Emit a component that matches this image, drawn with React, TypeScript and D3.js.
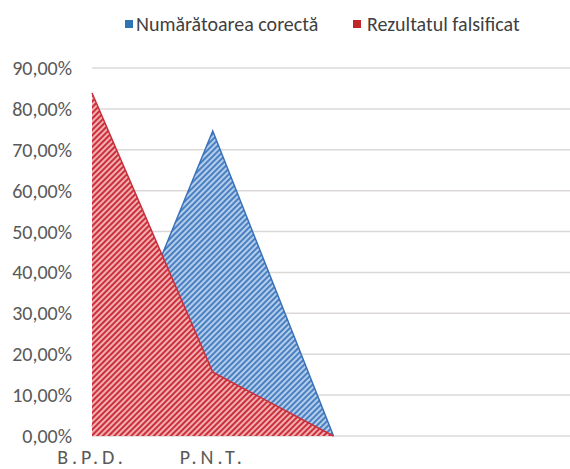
import React from 'react';
import * as d3 from 'd3';

// categories on the x axis (the last ones have no label)
const categories = ['B.P.D.', 'P.N.T.', '', ' '];
const seriesNames = ['Numărătoarea corectă', 'Rezultatul falsificat'];
const correctValues = [2.4, 74.6, 0];
const falsifiedValues = [83.9, 15.6, 0];
const yTicks = [0, 10, 20, 30, 40, 50, 60, 70, 80, 90];

const width = 570;
const height = 469;
const font = 'Carlito, "Open Sans", sans-serif';

const App = () => {
  const x = d3.scaleLinear().domain([0, categories.length]).range([92, 575]);
  const y = d3.scaleLinear().domain([0, 90]).range([436, 68]);

  const area = d3
    .area<number>()
    .x((d, i) => x(i))
    .y0(y(0))
    .y1(d => y(d));

  const line = d3
    .line<number>()
    .x((d, i) => x(i))
    .y(d => y(d));

  const fmt = (v: number) => v.toFixed(2).replace('.', ',') + '%';

  return (
    <svg
      width={width}
      height={height}
      style={{ position: 'absolute', left: 0, top: 0, background: '#fff' }}
    >
      <defs>
        <pattern id="hatchBlue" width="4" height="4" patternUnits="userSpaceOnUse" patternTransform="rotate(45)">
          <rect width="4" height="4" fill="#b3cdea" />
          <rect width="2" height="4" fill="#4a80c2" />
        </pattern>
        <pattern id="hatchRed" width="4" height="4" patternUnits="userSpaceOnUse" patternTransform="rotate(45)">
          <rect width="4" height="4" fill="#f2aeb0" />
          <rect width="2" height="4" fill="#c9303c" />
        </pattern>
      </defs>

      {/* gridlines */}
      {yTicks.map(t => (
        <line key={t} x1={92} x2={width} y1={y(t)} y2={y(t)} stroke="#dcd8d8" strokeWidth={1.5} />
      ))}

      {/* y axis labels */}
      {yTicks.map(t => (
        <text
          key={'l' + t}
          x={72}
          y={y(t)}
          dy="0.35em"
          textAnchor="end"
          fontFamily={font}
          fontSize={20}
          fill="#595959"
        >
          {fmt(t)}
        </text>
      ))}

      {/* areas: correct first, falsified on top */}
      <path d={area(correctValues) || ''} fill="url(#hatchBlue)" />
      <path d={line(correctValues) || ''} fill="none" stroke="#3a72b8" strokeWidth={1.5} />
      <path d={area(falsifiedValues) || ''} fill="url(#hatchRed)" />
      <path d={line(falsifiedValues) || ''} fill="none" stroke="#c8303a" strokeWidth={1.5} />

      {/* x axis labels */}
      {categories.map((c, i) => (
        <text
          key={'c' + i}
          x={x(i)}
          y={464}
          textAnchor="middle"
          fontFamily={font}
          fontSize={20}
          letterSpacing={4}
          fill="#595959"
        >
          {c}
        </text>
      ))}

      {/* legend */}
      <rect x={125} y={20} width={8} height={8} fill="#2e75b6" />
      <text x={136} y={24} dy="0.35em" fontFamily={font} fontSize={20} fill="#404040">
        {seriesNames[0]}
      </text>
      <rect x={353} y={20} width={8} height={8} fill="#c0272d" />
      <text x={367} y={24} dy="0.35em" fontFamily={font} fontSize={20} fill="#404040">
        {seriesNames[1]}
      </text>
    </svg>
  );
};

export default App;
